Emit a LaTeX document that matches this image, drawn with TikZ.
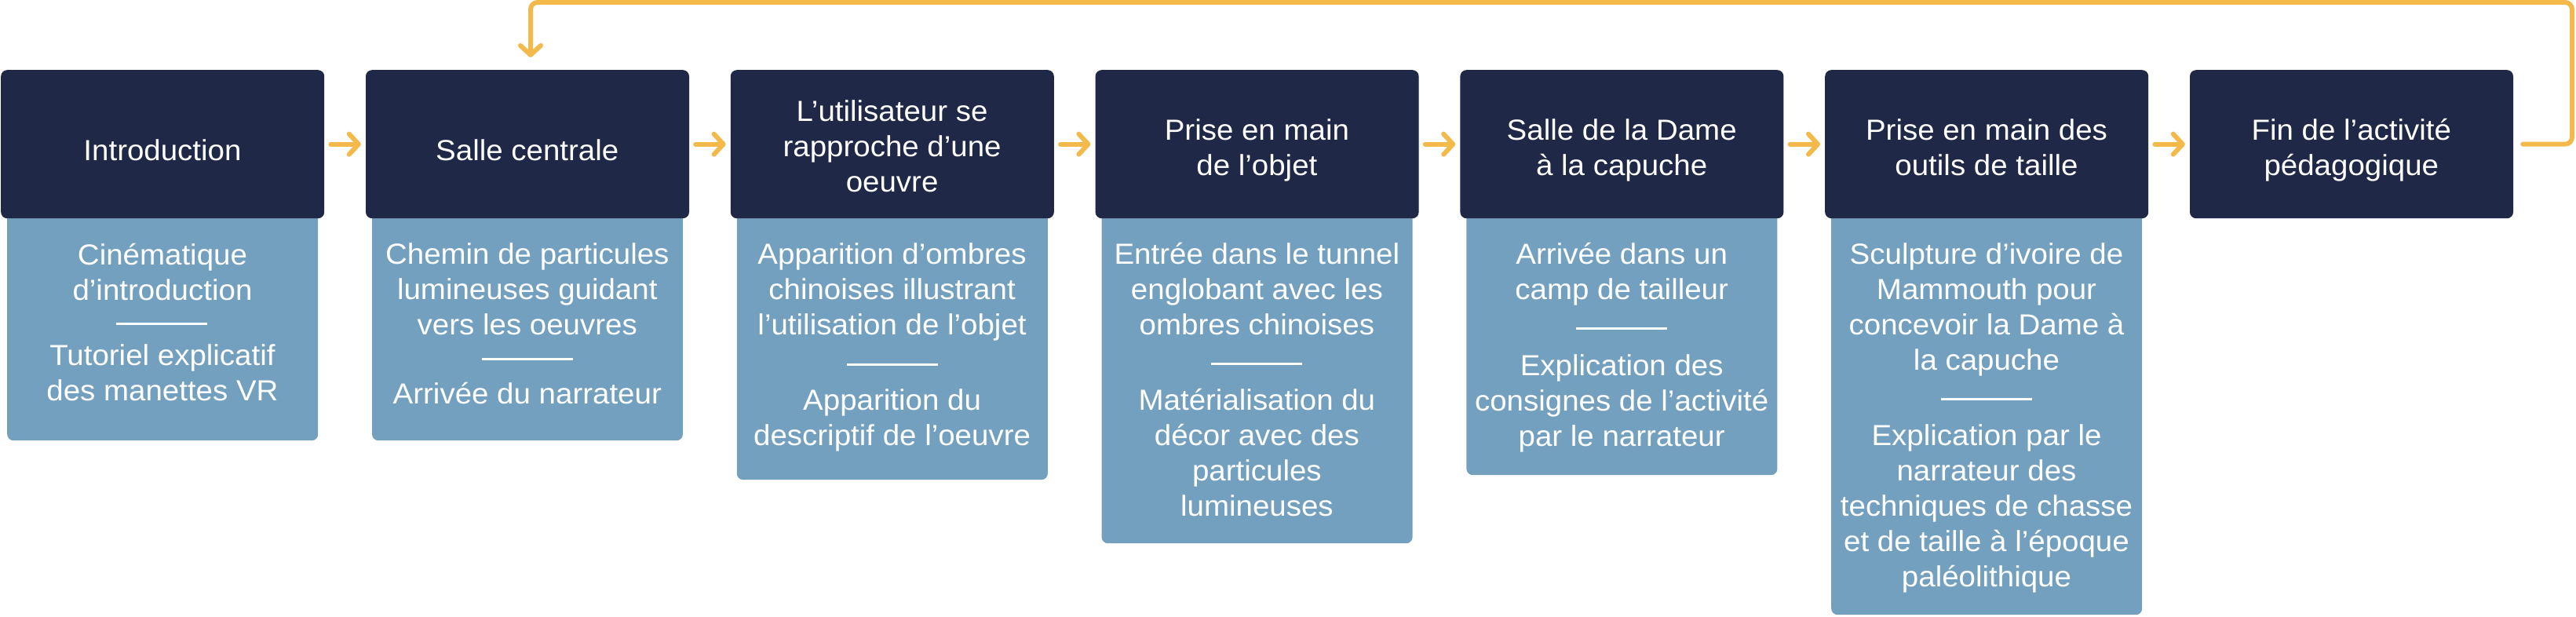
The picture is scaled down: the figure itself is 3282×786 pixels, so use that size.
\documentclass[tikz,border=0pt]{standalone}
\usepackage{fontspec}
\setmainfont{Liberation Sans}[FakeStretch=1.04]
\usetikzlibrary{arrows.meta}
\definecolor{navy}{HTML}{1F2847}
\definecolor{steel}{HTML}{74A0BF}
\definecolor{gold}{HTML}{F3BA4B}
\begin{document}
\begin{tikzpicture}[x=1pt,y=-1pt,
  headbox/.style={fill=navy, rounded corners=8pt, minimum width=412pt, minimum height=189pt, anchor=north west, inner sep=0pt, draw=none},
  detailbox/.style={fill=steel, rounded corners=8pt, minimum width=396pt, anchor=north west, inner sep=0pt, draw=none},
  htext/.style={text=white, font=\fontsize{37}{45}\selectfont, align=center, inner sep=0pt},
  dtext/.style={text=white, font=\fontsize{37}{45}\selectfont, align=center, inner sep=0pt},
  sepline/.style={draw=white, line width=3pt},
  flow/.style={draw=gold, line width=6pt, line cap=round, line join=round, -{Straight Barb[length=12pt, width=26pt, line width=6pt, round]}}
]
\useasboundingbox (0,0) rectangle (3282,786);

% detail boxes (behind headers)
\node[detailbox, minimum height=301pt] (d1) at (9,260) {};
\node[detailbox, minimum height=301pt] (d2) at (473.8,260) {};
\node[detailbox, minimum height=351pt] (d3) at (938.6,260) {};
\node[detailbox, minimum height=432pt] (d4) at (1403.4,260) {};
\node[detailbox, minimum height=345pt] (d5) at (1868.2,260) {};
\node[detailbox, minimum height=523pt] (d6) at (2333,260) {};

% header boxes
\node[headbox] (h1) at (1,89) {};
\node[headbox] (h2) at (465.8,89) {};
\node[headbox] (h3) at (930.6,89) {};
\node[headbox] (h4) at (1395.4,89) {};
\node[headbox] (h5) at (1860.2,89) {};
\node[headbox] (h6) at (2325,89) {};
\node[headbox] (h7) at (2789.8,89) {};

% header texts
\node[htext] (h1t) at (207,196) {\strut Introduction};
\node[htext] (h2t) at (671.8,196) {\strut Salle centrale};
\node[htext] (h3t) at (1136.6,191) {\strut L’utilisateur se\\\strut rapproche d’une\\\strut oeuvre};
\node[htext] (h4t) at (1601.4,192) {\strut Prise en main\\\strut de l’objet};
\node[htext] (h5t) at (2066.2,192) {\strut Salle de la Dame\\\strut à la capuche};
\node[htext] (h6t) at (2531,192) {\strut Prise en main des\\\strut outils de taille};
\node[htext] (h7t) at (2995.8,192) {\strut Fin de l’activité\\\strut pédagogique};

% detail texts
\node[dtext] (d1a) at (207,351) {\strut Cinématique\\\strut d’introduction};
\draw[sepline] (148,412) -- (264,412);
\node[dtext] (d1b) at (207,479) {\strut Tutoriel explicatif\\\strut des manettes VR};

\node[dtext] (d2a) at (671.8,372) {\strut Chemin de particules\\\strut lumineuses guidant\\\strut vers les oeuvres};
\draw[sepline] (613.8,457) -- (729.8,457);
\node[dtext] (d2b) at (671.8,505) {\strut Arrivée du narrateur};

\node[dtext] (d3a) at (1136.6,372) {\strut Apparition d’ombres\\\strut chinoises illustrant\\\strut l’utilisation de l’objet};
\draw[sepline] (1078.6,464) -- (1194.6,464);
\node[dtext] (d3b) at (1136.6,536) {\strut Apparition du\\\strut descriptif de l’oeuvre};

\node[dtext] (d4a) at (1601.4,372) {\strut Entrée dans le tunnel\\\strut englobant avec les\\\strut ombres chinoises};
\draw[sepline] (1543.4,463) -- (1659.4,463);
\node[dtext] (d4b) at (1601.4,581) {\strut Matérialisation du\\\strut décor avec des\\\strut particules\\\strut lumineuses};

\node[dtext] (d5a) at (2066.2,350) {\strut Arrivée dans un\\\strut camp de tailleur};
\draw[sepline] (2008.2,418) -- (2124.2,418);
\node[dtext] (d5b) at (2066.2,514) {\strut Explication des\\\strut consignes de l’activité\\\strut par le narrateur};

\node[dtext] (d6a) at (2531,395) {\strut Sculpture d’ivoire de\\\strut Mammouth pour\\\strut concevoir la Dame à\\\strut la capuche};
\draw[sepline] (2473,508) -- (2589,508);
\node[dtext] (d6b) at (2531,648) {\strut Explication par le\\\strut narrateur des\\\strut techniques de chasse\\\strut et de taille à l’époque\\\strut paléolithique};

% flow arrows
\draw[flow] ([xshift=8pt]h1.east) -- ([xshift=-6pt]h2.west);
\draw[flow] ([xshift=8pt]h2.east) -- ([xshift=-6pt]h3.west);
\draw[flow] ([xshift=8pt]h3.east) -- ([xshift=-6pt]h4.west);
\draw[flow] ([xshift=8pt]h4.east) -- ([xshift=-6pt]h5.west);
\draw[flow] ([xshift=8pt]h5.east) -- ([xshift=-6pt]h6.west);
\draw[flow] ([xshift=8pt]h6.east) -- ([xshift=-6pt]h7.west);

% loop back
\coordinate (loopR) at (3277,3);
\coordinate (loopL) at (676,3);
\coordinate (loopEnd) at (676,73);
\draw[flow, rounded corners=9pt] ([xshift=12pt]h7.east) -| (loopR) -- (loopL) -- (loopEnd);
\end{tikzpicture}
\end{document}
